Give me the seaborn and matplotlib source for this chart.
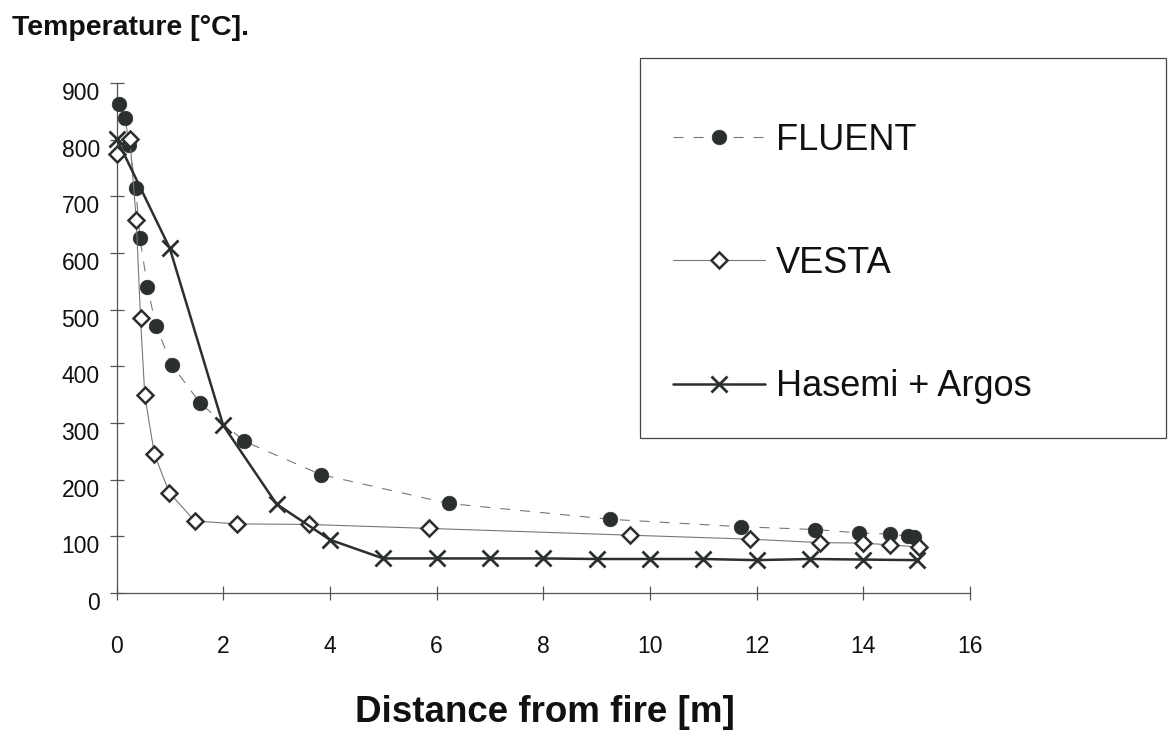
import matplotlib
matplotlib.use("Agg")
import matplotlib.pyplot as plt
from matplotlib.patches import Rectangle
from matplotlib.transforms import ScaledTranslation
import seaborn as sns

# ---- data ----
fluent_x = [0.05, 0.16, 0.24, 0.36, 0.44, 0.58, 0.74, 1.04, 1.57, 2.39, 3.83, 6.23, 9.26, 11.7, 13.1, 13.92, 14.5, 14.83, 14.95]
fluent_y = [863, 839, 790, 715, 626, 540, 471, 402, 335, 268, 209, 158, 130, 117, 112, 106, 104, 100, 98]

vesta_x = [0.0, 0.25, 0.37, 0.45, 0.53, 0.71, 0.99, 1.47, 2.25, 3.6, 5.85, 9.63, 11.88, 13.18, 13.99, 14.5, 15.04]
vesta_y = [775, 802, 659, 486, 349, 245, 177, 127, 122, 121, 114, 102, 95, 89, 88, 85, 81]

hasemi_x = [0, 1, 2, 3, 4, 5, 6, 7, 8, 9, 10, 11, 12, 13, 14, 15]
hasemi_y = [802, 608, 296, 157, 94, 61, 61, 61, 61, 60, 60, 60, 58, 60, 59, 58]

labels = ["FLUENT", "VESTA", "Hasemi + Argos"]
x_ticks = [0, 2, 4, 6, 8, 10, 12, 14, 16]
y_ticks = [0, 100, 200, 300, 400, 500, 600, 700, 800, 900]

sns.set_style("white")
plt.rcParams["font.family"] = ["Liberation Sans", "DejaVu Sans"]

W, H = 1168, 730
fig = plt.figure(figsize=(W / 100, H / 100), dpi=100)
ax = fig.add_axes([116.5 / W, 1 - 593 / H, (970 - 116.5) / W, (593 - 83) / H])

ink = "#2b2f2f"

sns.lineplot(x=fluent_x, y=fluent_y, ax=ax, sort=False, estimator=None,
             color="#777777", linewidth=0.8, linestyle=(0, (9, 9)),
             marker="o", markersize=10.5, markerfacecolor=ink,
             markeredgecolor=ink, markeredgewidth=0.5, clip_on=False, zorder=3)
sns.lineplot(x=vesta_x, y=vesta_y, ax=ax, sort=False, estimator=None,
             color="#777777", linewidth=0.8, linestyle="-",
             marker="D", markersize=8, markerfacecolor="white",
             markeredgecolor=ink, markeredgewidth=1.8, clip_on=False, zorder=4)
sns.lineplot(x=hasemi_x, y=hasemi_y, ax=ax, sort=False, estimator=None,
             color=ink, linewidth=1.8, linestyle="-",
             marker="x", markersize=12, markerfacecolor=ink,
             markeredgecolor=ink, markeredgewidth=2.0, clip_on=False, zorder=5)

ax.set_xlim(0, 16)
ax.set_ylim(0, 900)
ax.set_xticks(x_ticks)
ax.set_yticks(y_ticks)
ax.set_xticklabels([str(t) for t in x_ticks])
ax.set_yticklabels([str(t) for t in y_ticks])
ax.tick_params(axis="both", direction="inout", length=10, width=0.9,
               color="#555555", labelsize=16.5, labelcolor="#111111",
               bottom=True, left=True)
ax.tick_params(axis="x", pad=25)
ax.tick_params(axis="y", pad=7)
offset = ScaledTranslation(0, -8 / 100, fig.dpi_scale_trans)
for lab in ax.get_yticklabels():
    lab.set_transform(lab.get_transform() + offset)
for side in ["top", "right"]:
    ax.spines[side].set_visible(False)
for side in ["left", "bottom"]:
    ax.spines[side].set_color("#555555")
    ax.spines[side].set_linewidth(0.9)
ax.set_xlabel("")
ax.set_ylabel("")
if ax.get_legend() is not None:
    ax.get_legend().remove()

fig.text(12 / W, 1 - 28 / H, "Temperature [°C].", fontsize=20.5, fontweight="bold",
         ha="left", va="center", color="#111111")
fig.text(545 / W, 1 - 712 / H, "Distance from fire [m]", fontsize=26.5, fontweight="bold",
         ha="center", va="center", color="#111111")

# legend frame
fig.patches.append(Rectangle((640 / W, 1 - 438 / H), (1166 - 640) / W, (438 - 58) / H,
                             transform=fig.transFigure, fill=False,
                             edgecolor="#444444", linewidth=0.9))

handles = ax.get_lines()[:3]
fig.legend(handles, labels, loc="center left",
           bbox_to_anchor=(673 / W, 1 - 263.5 / H), frameon=False,
           fontsize=26, handlelength=2.55, handletextpad=0.3,
           labelspacing=2.45, borderpad=0, borderaxespad=0, numpoints=1,
           labelcolor="#111111")

fig.savefig("out.png", dpi=100, facecolor="white")
